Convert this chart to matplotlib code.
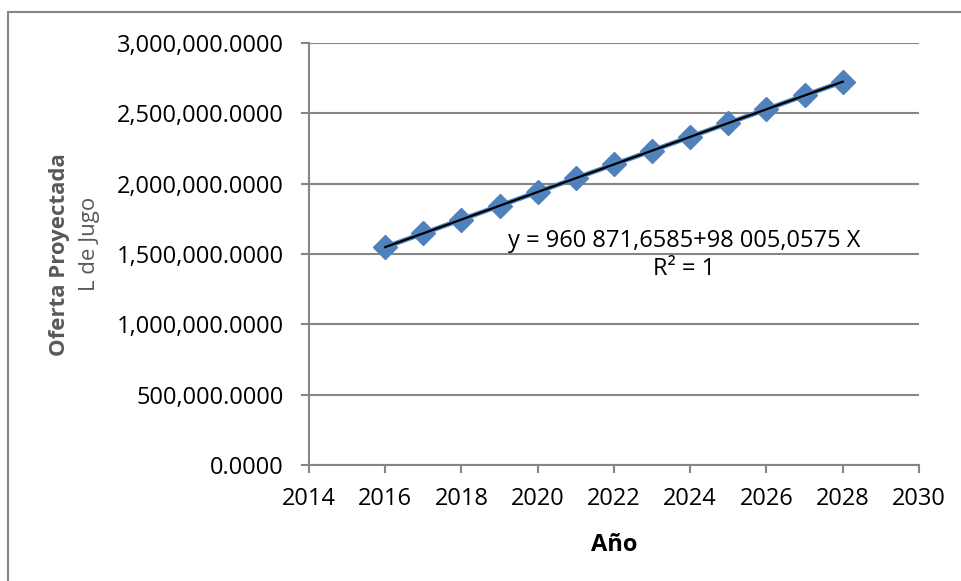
import matplotlib.pyplot as plt
from matplotlib.patches import Rectangle
from matplotlib.ticker import FuncFormatter, MultipleLocator
import numpy as np

years = [2016, 2017, 2018, 2019, 2020, 2021, 2022, 2023, 2024, 2025, 2026, 2027, 2028]
oferta = [1548900, 1646900, 1744900, 1842900, 1940900, 2038900, 2136900,
          2234900, 2332900, 2430900, 2528900, 2626900, 2724900]
ecuacion = 'y = 960 871,6585+98 005,0575 X'
r2_text = 'R² = 1'

plt.rcParams['font.family'] = ['Open Sans', 'DejaVu Sans']
grey = '#868686'
blue = '#4F81BD'
fs = 17

fig = plt.figure(figsize=(9.62, 5.81), dpi=100)
ax = fig.add_axes([0.3212, 0.1997, 0.6341, 0.7263])

# chart area border
fig.patches.append(Rectangle((8 / 962, -0.05), 1.1, 1 - 12 / 581 + 0.05,
                             transform=fig.transFigure, fill=False,
                             edgecolor=grey, linewidth=1.5))

ax.plot(years, oferta, color=blue, linewidth=3.5, marker='D', markersize=12.5,
        markerfacecolor=blue, markeredgecolor=blue, zorder=3)

# linear trendline
coef = np.polyfit(years, oferta, 1)
xs = np.array([years[0], years[-1]])
ax.plot(xs, np.polyval(coef, xs), color='black', linewidth=1.6, zorder=4)

ax.text(2023.85, 1592000, ecuacion, ha='center', va='center', fontsize=fs, color='black')
ax.text(2023.85, 1395000, r2_text, ha='center', va='center', fontsize=fs, color='black')

ax.set_xlim(2014, 2030)
ax.set_ylim(0, 3000000)
ax.xaxis.set_major_locator(MultipleLocator(2))
ax.yaxis.set_major_locator(MultipleLocator(500000))
ax.yaxis.set_major_formatter(FuncFormatter(lambda v, p: '{:,.4f}'.format(v)))

ax.grid(axis='y', color=grey, linewidth=1.5)
ax.set_axisbelow(True)
for s in ['top', 'right']:
    ax.spines[s].set_visible(False)
for s in ['left', 'bottom']:
    ax.spines[s].set_color(grey)
    ax.spines[s].set_linewidth(1.5)
ax.tick_params(axis='both', colors=grey, labelcolor='black', labelsize=fs,
               length=6, width=1.5)
ax.tick_params(axis='y', pad=12)
ax.tick_params(axis='x', pad=10)

ax.set_xlabel('Año', fontsize=fs, fontweight='bold', labelpad=16)
fig.text(60 / 962, 1 - 255 / 581, 'Oferta Proyectada', rotation=90, ha='center',
         va='center', fontsize=16, fontweight='bold', color='#595959')
fig.text(90 / 962, 1 - 244 / 581, 'L de Jugo', rotation=90, ha='center',
         va='center', fontsize=16, color='#595959')

plt.savefig('out.png', dpi=100)
plt.close()
